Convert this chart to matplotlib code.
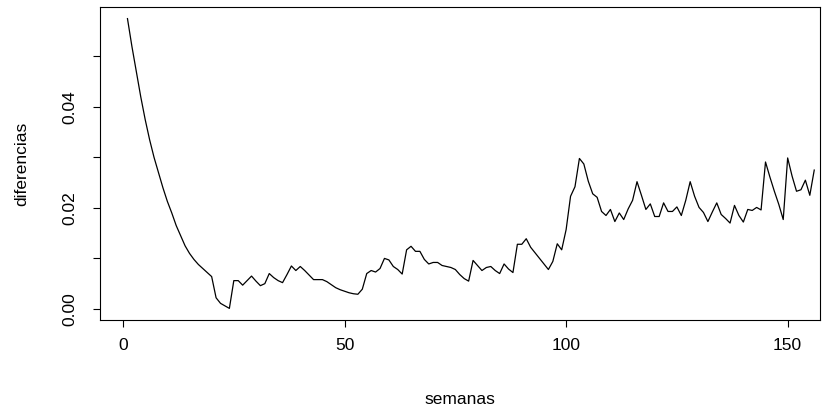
import matplotlib
matplotlib.use('Agg')
import matplotlib.pyplot as plt
import numpy as np

# semanas 1..156 y la diferencia observada en cada una
semanas = np.arange(1, 157)
diferencias = [
    0.0575, 0.0520, 0.0470, 0.0420, 0.0375, 0.0335, 0.0300, 0.0270, 0.0240, 0.0213,
    0.0190, 0.0165, 0.0145, 0.0125, 0.0110, 0.0098, 0.0088, 0.0080, 0.0072, 0.0064,
    0.0022, 0.0011, 0.0006, 0.0001, 0.0056, 0.0056, 0.0047, 0.0056, 0.0065, 0.0055,
    0.0046, 0.0050, 0.0070, 0.0062, 0.0056, 0.0052, 0.0068, 0.0085, 0.0076, 0.0084,
    0.0076, 0.0067, 0.0058, 0.0058, 0.0058, 0.0054, 0.0048, 0.0042, 0.0038, 0.0035,
    0.0032, 0.0030, 0.0029, 0.0039, 0.0070, 0.0076, 0.0073, 0.0080, 0.0100, 0.0097,
    0.0084, 0.0078, 0.0069, 0.0117, 0.0124, 0.0114, 0.0114, 0.0098, 0.0089, 0.0092,
    0.0092, 0.0086, 0.0084, 0.0082, 0.0078, 0.0068, 0.0060, 0.0055, 0.0096, 0.0086,
    0.0076, 0.0082, 0.0084, 0.0076, 0.0070, 0.0089, 0.0079, 0.0072, 0.0128, 0.0128,
    0.0139, 0.0122, 0.0111, 0.0100, 0.0089, 0.0078, 0.0094, 0.0129, 0.0117, 0.0157,
    0.0223, 0.0242, 0.0298, 0.0287, 0.0253, 0.0228, 0.0221, 0.0193, 0.0185, 0.0197,
    0.0173, 0.0190, 0.0177, 0.0198, 0.0215, 0.0252, 0.0225, 0.0197, 0.0208, 0.0183,
    0.0183, 0.0210, 0.0193, 0.0193, 0.0202, 0.0185, 0.0215, 0.0252, 0.0223, 0.0201,
    0.0191, 0.0173, 0.0192, 0.0210, 0.0187, 0.0179, 0.0170, 0.0205, 0.0185, 0.0172,
    0.0197, 0.0195, 0.0201, 0.0196, 0.0291, 0.0261, 0.0233, 0.0207, 0.0177, 0.0299,
    0.0263, 0.0233, 0.0236, 0.0255, 0.0225, 0.0275,
]

xticks = [0, 50, 100, 150]
yticks = [0.00, 0.01, 0.02, 0.03, 0.04, 0.05]
ylabels = ['0.00', '', '0.02', '', '0.04', '']

plt.rcParams['font.family'] = ['Liberation Sans', 'DejaVu Sans']
plt.rcParams['font.size'] = 12.5

fig = plt.figure(figsize=(8.32, 4.12), dpi=100)
ax = fig.add_axes([100/832, 1 - 320/412, 720/832, 313/412])

ax.plot(semanas, diferencias, color='black', lw=0.9)

ax.set_xlim(-5.2, 157.3)
ax.set_ylim(-0.0022, 0.0598)
ax.set_xticks(xticks)
ax.set_xticklabels([str(t) for t in xticks])
ax.set_yticks(yticks)
ax.set_yticklabels(ylabels, rotation=90, va='center')
ax.tick_params(direction='out', length=5, width=0.8, pad=8)
ax.tick_params(axis='y', pad=11)
for s in ax.spines.values():
    s.set_linewidth(0.8)

ax.set_xlabel('semanas', labelpad=28)
ax.set_ylabel('diferencias', labelpad=24)

fig.savefig('out.png', dpi=100)
